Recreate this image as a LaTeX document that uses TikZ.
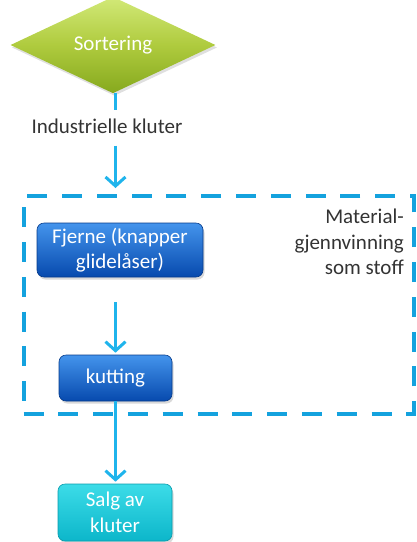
\documentclass[tikz,border=0pt]{standalone}
\usepackage{fontspec}
\setmainfont{Carlito}
\usetikzlibrary{shapes.geometric,arrows.meta,shadows}

\definecolor{flowline}{HTML}{1FB4EC}
\definecolor{groupline}{HTML}{14A2DE}
\definecolor{labeltext}{HTML}{333333}
\definecolor{greentop}{HTML}{D2E978}
\definecolor{greenmid}{HTML}{AFCB3E}
\definecolor{greenbot}{HTML}{86A91E}
\definecolor{bluetop}{HTML}{4494EC}
\definecolor{bluebot}{HTML}{074AAE}
\definecolor{cyantop}{HTML}{3CDCE8}
\definecolor{cyanbot}{HTML}{0CB6CA}

\tikzset{
  base/.style={font=\fontsize{21}{25.5}\selectfont, align=center, inner sep=0pt},
  decision/.style={base, diamond, text=white, minimum width=205pt, minimum height=62pt,
    top color=greentop, bottom color=greenbot, middle color=greenmid,
    drop shadow={shadow xshift=1.5pt, shadow yshift=-2.5pt, opacity=0.25}},
  process/.style={base, rectangle, rounded corners=7pt, text=white,
    top color=bluetop, bottom color=bluebot, draw=bluebot!80!black, line width=0.6pt,
    drop shadow={shadow xshift=1.5pt, shadow yshift=-2.5pt, opacity=0.3}},
  outcome/.style={base, rectangle, rounded corners=7pt, text=white,
    top color=cyantop, bottom color=cyanbot, draw=cyanbot!85!black, line width=0.6pt,
    drop shadow={shadow xshift=1.5pt, shadow yshift=-2.5pt, opacity=0.3}},
  plain/.style={base, text=labeltext},
  flow/.style={draw=flowline, line width=3pt},
  flowarrow/.style={flow, -{Straight Barb[length=9pt, width=20pt, line width=3pt]}},
  groupbox/.style={draw=groupline, line width=4pt, dash pattern=on 20pt off 14.8pt,
    rectangle, inner sep=0pt, minimum width=390pt, minimum height=218pt},
}

\begin{document}
\begin{tikzpicture}[x=1pt, y=-1pt]
  \useasboundingbox (0,0) rectangle (416,542);

  % recycling group frame
  \node[groupbox] (grp) at (218.5,305) {};
  \node[plain, align=right, anchor=east] (grplabel) at (404,242)
    {Material-\\gjennvinning\\som stoff};

  % sorting step and its output
  \node[decision] (sort) at (113,45) {Sortering};
  \coordinate (col) at (115.5,0);
  \node[plain] (rags) at (107,126) {Industrielle kluter};

  % process steps
  \node[process, minimum width=166pt, minimum height=54pt] (remove) at (120,250)
    {Fjerne (knapper\\glidelåser)};
  \node[process, minimum width=113pt, minimum height=46pt] (cut) at (115.5,378) {kutting};
  \node[outcome, minimum width=114pt, minimum height=57pt] (sale) at (115,512.5)
    {Salg av\\kluter};

  % connectors
  \draw[flow] (sort.south -| col) -- ([yshift=8pt]rags.north -| col);
  \draw[flowarrow] ([yshift=-12pt]rags.south -| col) -- ([yshift=6pt]grp.north -| col);
  \draw[flowarrow] ([yshift=-25pt]remove.south -| col) -- ([yshift=2pt]cut.north -| col);
  \draw[flowarrow] (cut.south -| col) -- ([yshift=2pt]sale.north -| col);
\end{tikzpicture}
\end{document}
